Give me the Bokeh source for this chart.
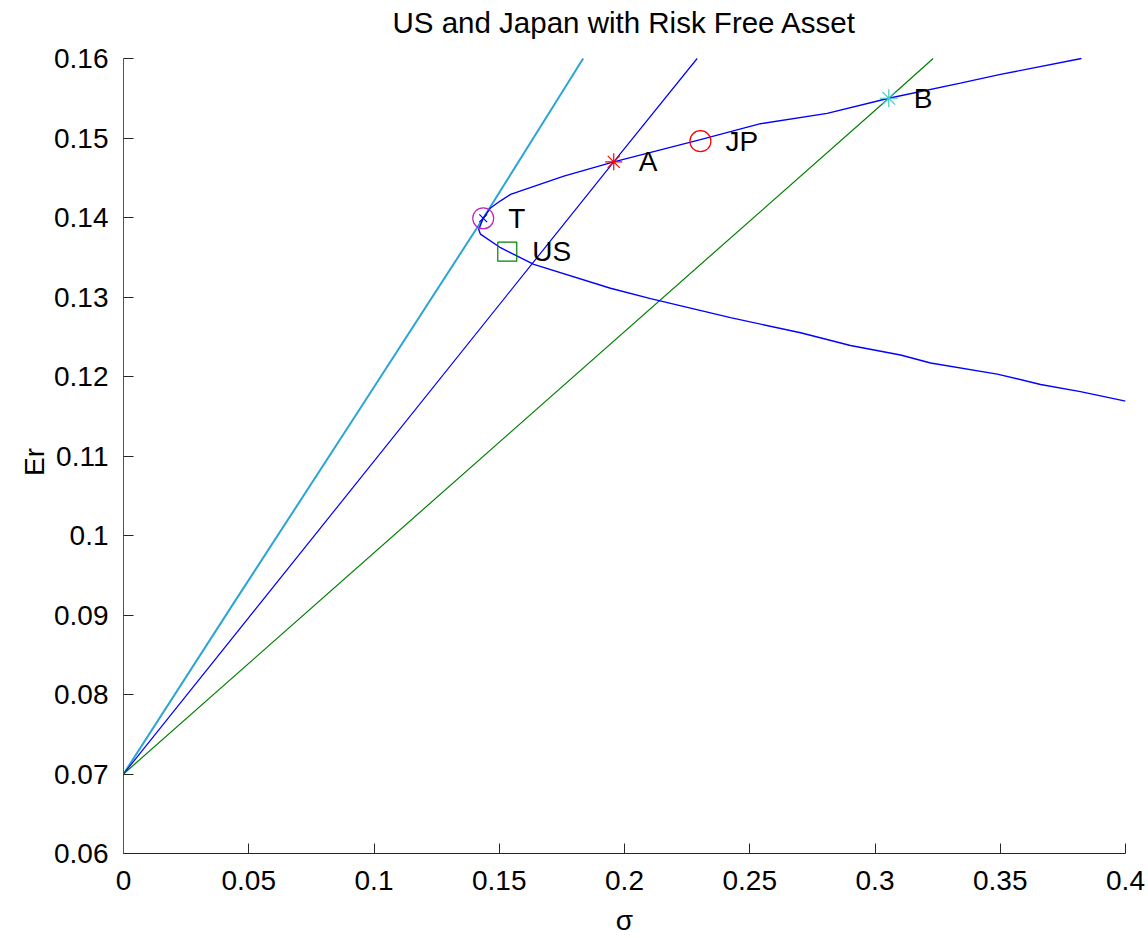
from bokeh.plotting import figure
from bokeh.models import Range1d, FixedTicker, Label
from bokeh.core.properties import value
from bokeh.embed import file_html
from bokeh.resources import INLINE

# ---- data ----
frontier_sigma = [0.3824, 0.3501, 0.3341, 0.3055, 0.2809, 0.2543, 0.2303, 0.1957,
                  0.1758, 0.1545, 0.1505, 0.1465, 0.1436, 0.1418, 0.1425, 0.1505,
                  0.1638, 0.1944, 0.2104, 0.2423, 0.2703, 0.2902, 0.3102, 0.3222,
                  0.3488, 0.3661, 0.3820, 0.4000]
frontier_er = [0.1600, 0.1580, 0.1569, 0.1550, 0.1531, 0.1518, 0.1498, 0.1470,
               0.1452, 0.1429, 0.1421, 0.1412, 0.1399, 0.1385, 0.1379, 0.1362,
               0.1341, 0.1311, 0.1298, 0.1274, 0.1255, 0.1239, 0.1227, 0.1217,
               0.1203, 0.1190, 0.1181, 0.1169]

cml_t_sigma = [0.0, 0.0436, 0.0935, 0.1436, 0.1835]
cml_t_er = [0.0700, 0.0913, 0.1155, 0.1399, 0.1600]

cml_a_sigma = [0.0, 0.1957, 0.2290]
cml_a_er = [0.0700, 0.1470, 0.1600]

cml_b_sigma = [0.0, 0.3055, 0.3232]
cml_b_er = [0.0700, 0.1550, 0.1600]

point_names = ["T", "US", "A", "JP", "B"]
point_sigma = [0.1436, 0.1532, 0.1957, 0.2303, 0.3055]
point_er = [0.1399, 0.1357, 0.1470, 0.1496, 0.1550]

x_ticks = [0.0, 0.05, 0.1, 0.15, 0.2, 0.25, 0.3, 0.35, 0.4]
x_tick_labels = ["0", "0.05", "0.1", "0.15", "0.2", "0.25", "0.3", "0.35", "0.4"]
y_ticks = [0.06, 0.07, 0.08, 0.09, 0.1, 0.11, 0.12, 0.13, 0.14, 0.15, 0.16]
y_tick_labels = ["0.06", "0.07", "0.08", "0.09", "0.1", "0.11", "0.12", "0.13",
                 "0.14", "0.15", "0.16"]

TITLE = "US and Japan with Risk Free Asset"
X_LABEL = "σ"
Y_LABEL = "Er"
FONT = "Liberation Sans"

Y_MIN, Y_MAX = 0.06, 0.16
X_MIN, X_MAX = 0.0, 0.4
UNIT_PER_PX = (Y_MAX - Y_MIN) / 795.0      # plotting area is 795 px tall
TOP_SPACE = Y_MAX + 58 * UNIT_PER_PX       # room above the axes for the title

p = figure(width=1148, height=938, output_backend="svg", toolbar_location=None,
           x_range=Range1d(X_MIN, X_MAX), y_range=Range1d(Y_MIN, TOP_SPACE),
           min_border_left=123, min_border_right=23, min_border_top=0,
           min_border_bottom=85)
p.background_fill_color = "white"
p.border_fill_color = "white"
p.outline_line_color = None
p.grid.visible = False

# title drawn in the space above the axes
p.add_layout(Label(x=(X_MIN + X_MAX) / 2, y=Y_MAX + 36 * UNIT_PER_PX, text=TITLE,
                   text_font=FONT, text_font_size="29.5px", text_align="center",
                   text_baseline="alphabetic", text_color="black"))

# lines
p.line(cml_t_sigma, cml_t_er, line_color="#2aa5d5", line_width=2)
p.line(cml_a_sigma, cml_a_er, line_color="#0000ff", line_width=1.2)
p.line(cml_b_sigma, cml_b_er, line_color="#008000", line_width=1.2)
p.line(frontier_sigma, frontier_er, line_color="#0000ff", line_width=1.4)

# markers
p.scatter([point_sigma[0]], [point_er[0]], marker="circle", size=21,
          fill_color=None, line_color="#c020c0", line_width=1.2)
p.scatter([point_sigma[0]], [point_er[0]], marker="x", size=11,
          line_color="#0000ff", line_width=1.2)
p.scatter([point_sigma[1]], [point_er[1]], marker="square", size=19,
          fill_color=None, line_color="#008000", line_width=1.2)
p.scatter([point_sigma[2]], [point_er[2]], marker="asterisk", size=17,
          line_color="#ff0000", line_width=1.2)
p.scatter([point_sigma[3]], [point_er[3]], marker="circle", size=21,
          fill_color=None, line_color="#ff0000", line_width=1.2)
p.scatter([point_sigma[4]], [point_er[4]], marker="asterisk", size=18,
          line_color="#40c8c8", line_width=1.2)

label_x = [s + 0.01 for s in point_sigma]
p.text(label_x, point_er, text=point_names, text_font=value(FONT),
       text_font_size="28px", text_baseline="middle", text_align="left",
       text_color="black")

# axes
p.xaxis.ticker = FixedTicker(ticks=x_ticks)
p.yaxis.ticker = FixedTicker(ticks=y_ticks)
p.xaxis.major_label_overrides = {t: l for t, l in zip(x_ticks, x_tick_labels)}
p.yaxis.major_label_overrides = {t: l for t, l in zip(y_ticks, y_tick_labels)}
p.yaxis.bounds = (Y_MIN, Y_MAX)

for ax in (p.xaxis[0], p.yaxis[0]):
    ax.major_tick_in = 10
    ax.major_tick_out = 0
    ax.minor_tick_in = 0
    ax.minor_tick_out = 0
    ax.major_label_text_font = FONT
    ax.major_label_text_font_size = "28px"
    ax.major_label_text_color = "black"
    ax.axis_label_text_font = FONT
    ax.axis_label_text_font_size = "28px"
    ax.axis_label_text_font_style = "normal"
    ax.axis_label_text_color = "black"
    ax.axis_line_width = 1
    ax.major_tick_line_width = 1

p.xaxis.axis_line_color = "#262626"
p.xaxis.major_tick_line_color = "#262626"
p.yaxis.axis_line_color = "#555555"
p.yaxis.major_tick_line_color = "#262626"

p.xaxis.axis_label = X_LABEL
# trailing no-break spaces centre the rotated label on the axes' span
p.yaxis.axis_label = Y_LABEL + "\u00a0" * 9
p.xaxis.major_label_standoff = 17
p.xaxis.axis_label_standoff = 12
p.yaxis.major_label_standoff = 15
p.yaxis.axis_label_standoff = 1

open("out.html", "w").write(file_html(p, INLINE))
